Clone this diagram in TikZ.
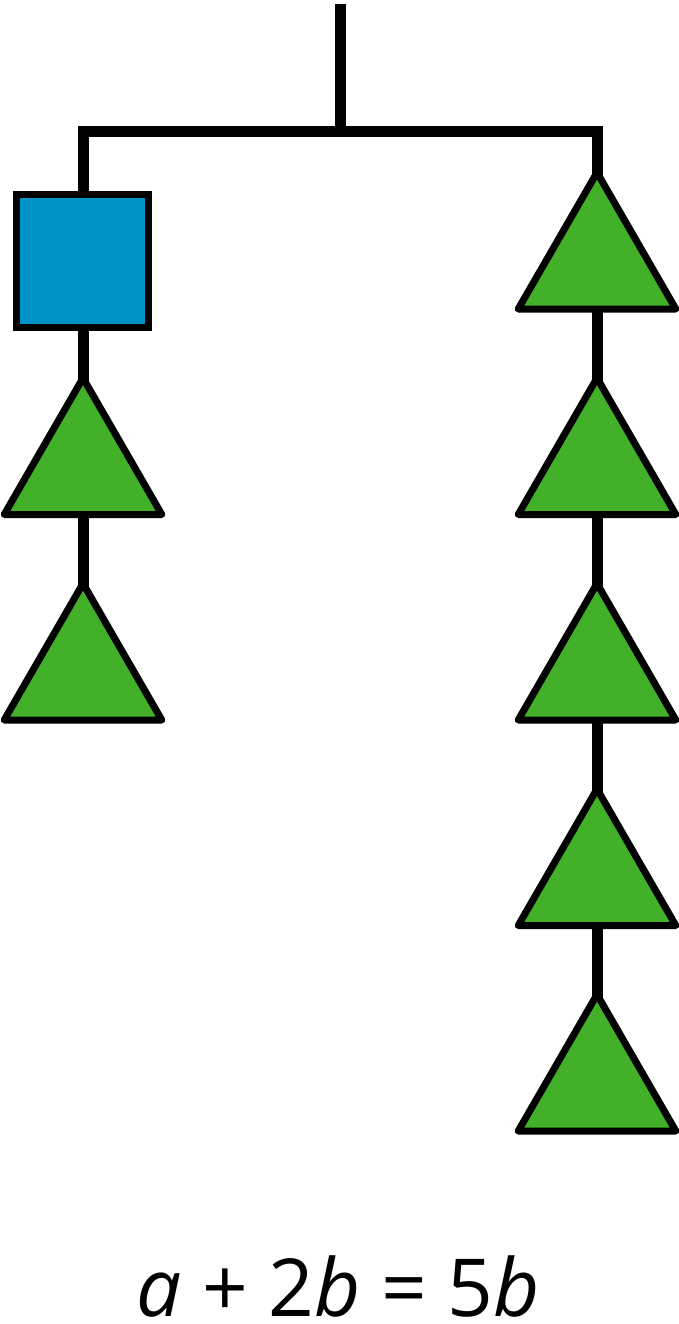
\documentclass[tikz,border=0pt]{standalone}
\usepackage{fontspec}
\setmainfont{Open Sans}
\usetikzlibrary{shapes.geometric}
\definecolor{sqblue}{RGB}{0,147,200}
\definecolor{trigreen}{RGB}{67,176,42}
\tikzset{
  hang/.style={line width=11pt, line join=miter},
  sqbox/.style={draw, line width=7pt, fill=sqblue, minimum size=132pt, inner sep=0pt, outer sep=0pt},
  tri/.style={draw, line width=7pt, fill=trigreen, shape=regular polygon, regular polygon sides=3, minimum size=182pt, inner sep=0pt, outer sep=0pt, line join=round},
}
\begin{document}
\begin{tikzpicture}[x=1pt,y=-1pt]
\useasboundingbox (0,0) rectangle (679,1324);
\coordinate (top) at (340,4);
\coordinate (barM) at (340,132);
\coordinate (barL) at (83,132);
\coordinate (barR) at (597,132);
% connectors (behind shapes)
\draw[hang] (top) -- (barM);
\draw[hang] (83,261) -- (barL) -- (barR) -- (597,263.5);
\draw[hang] (83,261) -- (83,674.5);
\draw[hang] (597,263.5) -- (597,1085.5);
% shapes
\node[sqbox] (sq) at (82.5,261) {};
\node[tri] (l1) at (83,469) {};
\node[tri] (l2) at (83,674.5) {};
\node[tri] (r1) at (597,263.5) {};
\node[tri] (r2) at (597,469) {};
\node[tri] (r3) at (597,674.5) {};
\node[tri] (r4) at (597,880) {};
\node[tri] (r5) at (597,1085.5) {};
\node[anchor=base, font=\fontsize{80}{90}\selectfont, inner sep=0pt] (eq) at (338,1316) {\textit{a} + 2\textit{b} = 5\textit{b}};
\end{tikzpicture}
\end{document}
